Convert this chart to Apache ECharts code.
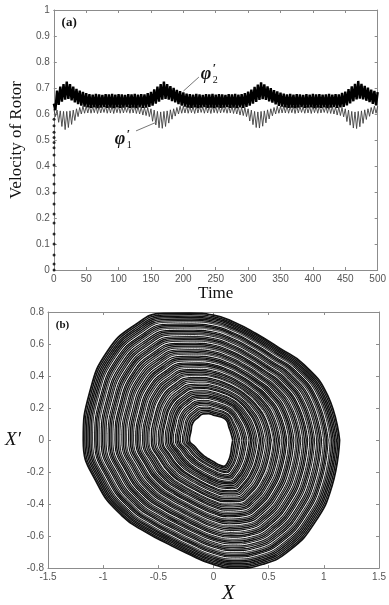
<!DOCTYPE html>
<html><head><meta charset="utf-8">
<script src="https://cdn.jsdelivr.net/npm/echarts@6.0.0/dist/echarts.min.js"></script>
<style>html,body{margin:0;padding:0;background:#fff}#c{width:389px;height:605px}</style>
</head><body><div id="c"></div>
<script>
// ---------- (a) rotor velocities, sampled every timeStep ----------
const timeStep = 2.5;
const timeTicks = [0, 50, 100, 150, 200, 250, 300, 350, 400, 450, 500];
const velocityTicks = [0, 0.1, 0.2, 0.3, 0.4, 0.5, 0.6, 0.7, 0.8, 0.9, 1];

const phi2 = [
  0.640, 0.615, 0.690, 0.635, 0.705, 0.648, 0.715, 0.655, 0.725, 0.658, 0.715, 0.652, 0.705, 0.645, 0.697, 0.638, 0.690, 0.632, 0.685, 0.628, 0.680, 0.626,
  0.676, 0.624, 0.674, 0.626, 0.677, 0.623, 0.675, 0.625, 0.673, 0.627, 0.676, 0.624,
  0.675, 0.625, 0.677, 0.623, 0.674, 0.626, 0.676, 0.624, 0.675, 0.625, 0.673, 0.627,
  0.676, 0.624, 0.675, 0.625, 0.677, 0.623, 0.674, 0.626, 0.676, 0.624, 0.675, 0.625,
  0.680, 0.627, 0.685, 0.632, 0.695, 0.640, 0.705, 0.648, 0.715, 0.655, 0.725, 0.658, 0.715, 0.655, 0.707, 0.650, 0.700, 0.645, 0.693, 0.638, 0.688, 0.632, 0.683, 0.628, 0.678,
  0.625, 0.676, 0.624, 0.674, 0.626, 0.677, 0.623, 0.675, 0.625, 0.673, 0.627, 0.676,
  0.624, 0.675, 0.625, 0.677, 0.623, 0.674, 0.626, 0.676, 0.624, 0.675, 0.625, 0.673,
  0.627, 0.676, 0.624, 0.675, 0.625, 0.677, 0.623, 0.674, 0.626, 0.676, 0.624,
  0.680, 0.627, 0.686, 0.632, 0.694, 0.640, 0.704, 0.647, 0.713, 0.654, 0.722, 0.657, 0.714, 0.654, 0.706, 0.649, 0.699, 0.644, 0.692, 0.637, 0.687, 0.631, 0.682, 0.628, 0.678,
  0.626, 0.675, 0.624, 0.677, 0.625, 0.674, 0.623, 0.676, 0.625, 0.675, 0.627, 0.673,
  0.624, 0.676, 0.625, 0.674, 0.626, 0.677, 0.623, 0.675, 0.625, 0.676, 0.624, 0.674,
  0.626, 0.675, 0.623, 0.677, 0.625, 0.674, 0.627, 0.676, 0.624, 0.675, 0.626,
  0.681, 0.627, 0.686, 0.633, 0.696, 0.641, 0.706, 0.649, 0.716, 0.656, 0.727, 0.659, 0.716, 0.656, 0.708, 0.651, 0.701, 0.646, 0.694, 0.639, 0.689, 0.633, 0.684
];
const phi1 = [
  0.620, 0.590, 0.615, 0.568, 0.612, 0.552, 0.610, 0.540, 0.610, 0.548, 0.612, 0.560, 0.615, 0.575, 0.620, 0.590, 0.625, 0.600, 0.630, 0.603, 0.630, 0.604,
  0.631, 0.603, 0.629, 0.605, 0.632, 0.602, 0.630, 0.604, 0.628, 0.606, 0.631, 0.603,
  0.630, 0.604, 0.632, 0.602, 0.629, 0.605, 0.631, 0.603, 0.630, 0.604, 0.628, 0.606,
  0.631, 0.603, 0.630, 0.604, 0.632, 0.602, 0.629, 0.600, 0.627, 0.596, 0.626, 0.594,
  0.625, 0.590, 0.620, 0.572, 0.615, 0.558, 0.610, 0.547, 0.608, 0.545, 0.610, 0.552, 0.612, 0.565, 0.616, 0.580, 0.620, 0.592, 0.625, 0.600, 0.630, 0.603, 0.630, 0.604, 0.631,
  0.603, 0.630, 0.605, 0.629, 0.602, 0.632, 0.604, 0.630, 0.606, 0.628, 0.603, 0.631,
  0.604, 0.630, 0.602, 0.632, 0.605, 0.629, 0.603, 0.631, 0.604, 0.630, 0.606, 0.628,
  0.603, 0.631, 0.604, 0.630, 0.602, 0.629, 0.600, 0.627, 0.596, 0.626, 0.594,
  0.625, 0.590, 0.620, 0.573, 0.615, 0.559, 0.610, 0.548, 0.608, 0.546, 0.610, 0.553, 0.612, 0.566, 0.616, 0.581, 0.620, 0.593, 0.625, 0.600, 0.630, 0.603, 0.630, 0.604, 0.631,
  0.604, 0.631, 0.603, 0.629, 0.605, 0.630, 0.602, 0.632, 0.604, 0.630, 0.606, 0.628,
  0.603, 0.631, 0.604, 0.629, 0.602, 0.632, 0.605, 0.630, 0.603, 0.631, 0.604, 0.628,
  0.606, 0.630, 0.603, 0.631, 0.602, 0.629, 0.600, 0.627, 0.596, 0.626, 0.594,
  0.625, 0.589, 0.620, 0.571, 0.615, 0.557, 0.610, 0.546, 0.608, 0.544, 0.610, 0.551, 0.612, 0.564, 0.616, 0.579, 0.620, 0.591, 0.625, 0.600, 0.630, 0.603, 0.630
];
// start-up transient (sampled points along t ~ 0)
const startupTime = 0.4;
const startupValues = [0, 0.023, 0.058, 0.100, 0.138, 0.181, 0.215, 0.254, 0.296, 0.331, 0.365, 0.404, 0.442, 0.470, 0.490, 0.510, 0.530, 0.555, 0.580];

// ---------- (b) phase portrait ----------
const phaseXTicks = [-1.5, -1, -0.5, 0, 0.5, 1, 1.5];
const phaseYTicks = [-0.8, -0.6, -0.4, -0.2, 0, 0.2, 0.4, 0.6, 0.8];
// outer envelope of the orbits (every 15 degrees)
const outerX = [1.142, 1.035, 0.822, 0.595, 0.385, 0.197, 0.000, -0.213, -0.455, -0.712, -0.963, -1.122, -1.180, -1.050, -0.829, -0.599, -0.405, -0.247, 0.000, 0.215, 0.446, 0.686, 0.914, 1.074];
const outerY = [0.000, 0.277, 0.470, 0.575, 0.665, 0.733, 0.780, 0.793, 0.791, 0.719, 0.553, 0.298, 0.000, -0.276, -0.473, -0.581, -0.651, -0.705, -0.777, -0.800, -0.776, -0.691, -0.519, -0.285];
// edge of the central hole (same directions)
const innerX = [0.175, 0.159, 0.140, 0.120, 0.081, 0.040, 0.000, -0.044, -0.094, -0.141, -0.188, -0.205, -0.219, -0.165, -0.128, -0.095, -0.064, -0.033, 0.000, 0.041, 0.094, 0.133, 0.155, 0.164];
const innerY = [0.000, 0.043, 0.081, 0.120, 0.141, 0.149, 0.156, 0.165, 0.163, 0.141, 0.108, 0.055, 0.000, -0.044, -0.074, -0.095, -0.110, -0.123, -0.136, -0.153, -0.164, -0.133, -0.089, -0.044];
// orbit levels between hole (0) and outer envelope (1)
const orbitLevels = [0.00, 0.018, 0.034, 0.052, 0.068, 0.083, 0.101, 0.117, 0.132, 0.150, 0.167, 0.181, 0.199, 0.214, 0.231, 0.248, 0.262, 0.279, 0.296, 0.311, 0.329, 0.345, 0.360, 0.378, 0.394, 0.409, 0.427, 0.443, 0.458, 0.476, 0.492, 0.507, 0.525, 0.541, 0.556, 0.574, 0.590, 0.605, 0.622, 0.639, 0.654, 0.671, 0.688, 0.703, 0.720, 0.737, 0.752, 0.769, 0.785, 0.800, 0.817, 0.833, 0.848, 0.865, 0.880, 0.895, 0.911, 0.926, 0.941, 0.956, 0.970, 0.985, 1.000];
// light gaps (white streaks) and mid-grey strands between orbits
const streakLevels = [0.075, 0.142, 0.238, 0.304, 0.372, 0.451, 0.516, 0.583, 0.646, 0.712, 0.776, 0.842, 0.903];
const greyLevels = [0.043, 0.124, 0.207, 0.271, 0.337, 0.401, 0.467, 0.532, 0.598, 0.662, 0.729, 0.794, 0.857, 0.918];

// ---------- build ----------
const r3 = v => Math.round(v * 1000) / 1000;
const tickRange = t => ({ min: t[0], max: t[t.length - 1], interval: r3(t[1] - t[0]) });
const GREY = '#8c8c8c';
const tickFont = { fontFamily: '"Liberation Sans", Arial, sans-serif', fontSize: 10, color: '#555' };
function axis(extra) {
  return Object.assign({
    type: 'value', splitLine: { show: false },
    axisLine: { show: true, onZero: false, lineStyle: { color: GREY, width: 1 } },
    axisTick: { show: true, inside: true, length: 3, lineStyle: { color: GREY } },
    axisLabel: Object.assign({ margin: 4 }, tickFont)
  }, extra);
}
const noLabel = { show: false };

const phi1Data = phi1.map((v, i) => [i * timeStep, v]);
const phi2Data = phi2.map((v, i) => [i * timeStep, v]);
const startupData = startupValues.map(v => [startupTime, v]);

function loop(f) {
  const pts = outerX.map((ox, k) => [innerX[k] + f * (ox - innerX[k]), innerY[k] + f * (outerY[k] - innerY[k])]);
  pts.push(pts[0]);
  return pts;
}

const series = [
  { name: "φ1'", type: 'line', xAxisIndex: 0, yAxisIndex: 0, data: phi1Data, showSymbol: false, z: 2,
    lineStyle: { color: '#404040', width: 0.9 }, silent: true },
  { name: "φ2'", type: 'line', xAxisIndex: 0, yAxisIndex: 0, data: phi2Data, showSymbol: false, z: 3,
    lineStyle: { color: '#000', width: 2.4 }, silent: true,
    markLine: { silent: true, symbol: ['none', 'none'], label: { show: false },
      lineStyle: { color: '#777', width: 1, type: 'solid' },
      data: [[{ coord: [200, 0.688] }, { coord: [224, 0.742] }], [{ coord: [127, 0.535] }, { coord: [159, 0.569] }]] } },
  { name: 'start-up', type: 'scatter', xAxisIndex: 0, yAxisIndex: 0, data: startupData, symbolSize: 3,
    itemStyle: { color: '#000' }, z: 4, silent: true }
];
orbitLevels.forEach(f => series.push({
  type: 'line', xAxisIndex: 2, yAxisIndex: 2, data: loop(f), smooth: 0.5, showSymbol: false, silent: true, z: 2,
  lineStyle: { color: '#111', width: (f === 0 || f === 1) ? 1.8 : 1.45 }
}));
greyLevels.forEach(f => series.push({
  type: 'line', xAxisIndex: 2, yAxisIndex: 2, data: loop(f), smooth: 0.5, showSymbol: false, silent: true, z: 3,
  lineStyle: { color: '#8a8a8a', width: 0.7 }
}));
streakLevels.forEach(f => series.push({
  type: 'line', xAxisIndex: 2, yAxisIndex: 2, data: loop(f), smooth: 0.5, showSymbol: false, silent: true, z: 4,
  lineStyle: { color: '#fff', width: 0.9 }
}));

const serif = '"Liberation Serif", "Times New Roman", "DejaVu Serif", serif';
const option = {
  animation: false,
  backgroundColor: '#fff',
  grid: [{ left: 50, top: 10, width: 330, height: 260 }, { left: 48, top: 312, width: 335, height: 261 }],
  xAxis: [
    axis(Object.assign({ gridIndex: 0, position: 'bottom', name: 'Time', nameLocation: 'middle', nameGap: 14,
      nameTextStyle: { fontFamily: serif, fontSize: 17, color: '#111' } }, tickRange(timeTicks))),
    axis(Object.assign({ gridIndex: 0, position: 'top', axisLabel: noLabel }, tickRange(timeTicks))),
    axis(Object.assign({ gridIndex: 1, position: 'bottom', name: 'X', nameLocation: 'middle', nameGap: 8,
      nameTextStyle: { fontFamily: serif, fontSize: 21, fontStyle: 'italic', color: '#111', padding: [0, 0, 0, 30] } }, tickRange(phaseXTicks))),
    axis(Object.assign({ gridIndex: 1, position: 'top', axisLabel: noLabel }, tickRange(phaseXTicks)))
  ],
  yAxis: [
    axis(Object.assign({ gridIndex: 0, position: 'left', name: 'Velocity of Rotor', nameLocation: 'middle', nameGap: 23, nameRotate: 90,
      nameTextStyle: { fontFamily: serif, fontSize: 17, color: '#111' } }, tickRange(velocityTicks))),
    axis(Object.assign({ gridIndex: 0, position: 'right', axisLabel: noLabel }, tickRange(velocityTicks))),
    axis(Object.assign({ gridIndex: 1, position: 'left', name: 'X′', nameLocation: 'middle', nameGap: 23, nameRotate: 0,
      nameTextStyle: { fontFamily: serif, fontSize: 19, fontStyle: 'italic', color: '#111' } }, tickRange(phaseYTicks))),
    axis(Object.assign({ gridIndex: 1, position: 'right', axisLabel: noLabel }, tickRange(phaseYTicks)))
  ],
  series: series
};

const chart = echarts.init(document.getElementById('c'), null, { renderer: 'canvas' });
chart.setOption(option);

// annotations placed from data coordinates
function txt(p, dx, dy, text, font, align) {
  return { type: 'text', x: p[0] + dx, y: p[1] + dy, silent: true, z: 100,
    style: { text: text, font: font, fill: '#111', textAlign: align || 'left', textVerticalAlign: 'middle', align: align || 'left', verticalAlign: 'middle' } };
}
const a2 = chart.convertToPixel({ gridIndex: 0 }, [227, 0.754]);
const a1 = chart.convertToPixel({ gridIndex: 0 }, [94, 0.502]);
const pa = chart.convertToPixel({ gridIndex: 0 }, [12, 0.95]);
const pb = chart.convertToPixel({ gridIndex: 1 }, [-1.43, 0.72]);
const phiFont = 'italic bold 18px ' + serif;
const subFont = '10px ' + serif;
const primeFont = 'bold 12px ' + serif;
chart.setOption({
  graphic: [
    txt(pa, 0, 0, '(a)', 'bold 13px ' + serif),
    txt(pb, 0, 0, '(b)', 'bold 11px ' + serif),
    txt(a2, 0, 0, 'φ', phiFont), txt(a2, 12, -5, '′', primeFont), txt(a2, 12, 6, '2', subFont),
    txt(a1, 0, 0, 'φ', phiFont), txt(a1, 12, -5, '′', primeFont), txt(a1, 12, 6, '1', subFont)
  ]
});
</script></body></html>
